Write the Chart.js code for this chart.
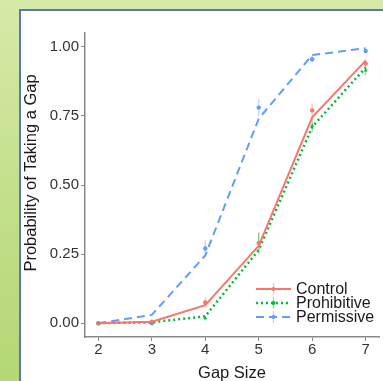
<!DOCTYPE html>
<html>
<head>
<meta charset="utf-8">
<script src="https://cdn.jsdelivr.net/npm/chart.js@4"></script>
<style>
  html, body { margin: 0; padding: 0; }
  body {
    width: 383px; height: 381px; overflow: hidden; position: relative;
    background: linear-gradient(to bottom, #d6eaa8 0%, #c4e08c 50%, #b5d775 100%);
  }
  .panel {
    position: absolute; left: 19px; top: 9px; width: 400px; height: 400px;
    background: #fff; border-left: 2px solid #5a77b9; border-top: 2px solid #5a77b9;
  }
  canvas { position: absolute; left: 0; top: 0; }
</style>
</head>
<body>
<div class="panel"></div>
<canvas id="chart" width="383" height="381"></canvas>
<script>
const gapSizes = [2, 3, 4, 5, 6, 7];
const yTicks = [0, 0.25, 0.5, 0.75, 1];
const xTitle = 'Gap Size';
const yTitle = 'Probability of Taking a Gap';

// fitted curves
const controlFit = [0, 0.005, 0.065, 0.28, 0.745, 0.95];
const prohibitiveFit = [0, 0.003, 0.025, 0.265, 0.71, 0.925];
const permissiveFit = [0, 0.03, 0.245, 0.74, 0.97, 0.995];

// observed means and error half-widths
const controlObs = [0, 0.005, 0.075, 0.29, 0.77, 0.94];
const controlErr = [0.003, 0.004, 0.02, 0.04, 0.025, 0.015];
const prohibitiveObs = [0, 0.003, 0.018, 0.29, 0.715, 0.915];
const prohibitiveErr = [0.002, 0.003, 0.008, 0.035, 0.025, 0.02];
const permissiveObs = [0, 0.0, 0.27, 0.78, 0.955, 0.985];
const permissiveErr = [0.003, 0.004, 0.03, 0.03, 0.012, 0.006];

const RED = '#F8766D', GREEN = '#00BA38', BLUE = '#619CFF';
const FONT = 'Liberation Sans, Arial, sans-serif';

const pts = arr => gapSizes.map((x, i) => ({ x, y: arr[i] }));

const series = [
  { label: 'Control', fit: controlFit, obs: controlObs, err: controlErr, color: RED, dash: [], width: 2, shape: 'circle' },
  { label: 'Prohibitive', fit: prohibitiveFit, obs: prohibitiveObs, err: prohibitiveErr, color: GREEN, dash: [2, 3], width: 2.5, shape: 'triangle' },
  { label: 'Permissive', fit: permissiveFit, obs: permissiveObs, err: permissiveErr, color: BLUE, dash: [8, 5], width: 2, shape: 'circle' },
];

const datasets = [];
series.forEach(s => {
  datasets.push({
    label: s.label, data: pts(s.fit), borderColor: s.color, borderWidth: s.width,
    borderDash: s.dash, pointRadius: 0, tension: 0, fill: false,
  });
});
series.forEach(s => {
  datasets.push({
    label: s.label + ' obs', data: pts(s.obs), showLine: false, pointStyle: s.shape,
    pointRadius: 2.2, backgroundColor: s.color, borderColor: s.color, borderWidth: 0,
    errors: s.err, errColor: s.color,
  });
});

const errorBars = {
  id: 'errorBars',
  beforeDatasetsDraw(chart) {
    const { ctx, scales } = chart;
    ctx.save();
    chart.data.datasets.forEach(ds => {
      if (!ds.errors) return;
      ctx.strokeStyle = ds.errColor;
      ctx.globalAlpha = 0.45;
      ctx.lineWidth = 1.2;
      ds.data.forEach((p, i) => {
        const x = scales.x.getPixelForValue(p.x);
        ctx.beginPath();
        ctx.moveTo(x, scales.y.getPixelForValue(p.y - ds.errors[i]));
        ctx.lineTo(x, scales.y.getPixelForValue(p.y + ds.errors[i]));
        ctx.stroke();
      });
    });
    ctx.restore();
  },
};

// axis titles and the in-panel legend
const annotations = {
  id: 'annotations',
  afterDraw(chart) {
    const { ctx, chartArea } = chart;
    ctx.save();
    ctx.fillStyle = '#1a1a1a';
    ctx.font = '16.5px ' + FONT;
    ctx.textAlign = 'center';
    ctx.textBaseline = 'middle';
    ctx.fillText(xTitle, (chartArea.left + chartArea.right) / 2, 373);
    ctx.save();
    ctx.translate(31, 173);
    ctx.rotate(-Math.PI / 2);
    ctx.fillText(yTitle, 0, 0);
    ctx.restore();

    ctx.font = '16px ' + FONT;
    ctx.textAlign = 'left';
    series.forEach((s, i) => {
      const y = 289 + i * 14;
      ctx.strokeStyle = s.color;
      ctx.lineWidth = s.width;
      ctx.setLineDash(s.dash);
      ctx.beginPath();
      ctx.moveTo(256, y);
      ctx.lineTo(291, y);
      ctx.stroke();
      ctx.setLineDash([]);
      ctx.globalAlpha = 0.45;
      ctx.lineWidth = 1.2;
      ctx.beginPath();
      ctx.moveTo(273.5, y - 6);
      ctx.lineTo(273.5, y + 6);
      ctx.stroke();
      ctx.globalAlpha = 1;
      ctx.fillStyle = s.color;
      ctx.beginPath();
      ctx.arc(273.5, y, 2, 0, Math.PI * 2);
      ctx.fill();
      ctx.fillStyle = '#1a1a1a';
      ctx.fillText(s.label, 296, y + 1);
    });
    ctx.restore();
  },
};

new Chart(document.getElementById('chart'), {
  type: 'line',
  data: { datasets },
  options: {
    responsive: false,
    animation: false,
    layout: { padding: { top: 33, right: 3, left: 0, bottom: 0 } },
    plugins: { legend: { display: false }, tooltip: { enabled: false } },
    scales: {
      x: {
        type: 'linear', min: 1.75, max: 7.25,
        afterBuildTicks: s => { s.ticks = gapSizes.map(v => ({ value: v })); },
        afterFit: s => { s.height = 44; },
        ticks: { color: '#333', font: { family: FONT, size: 15 }, padding: 0 },
        grid: { drawOnChartArea: false, drawTicks: true, tickLength: 4, color: '#888', lineWidth: 1 },
        border: { display: true, color: '#888', width: 1.5 },
      },
      y: {
        min: -0.05, max: 1.05,
        afterBuildTicks: s => { s.ticks = yTicks.map(v => ({ value: v })); },
        afterFit: s => { s.width = 85; },
        ticks: { color: '#333', font: { family: FONT, size: 15 }, padding: 2, callback: v => v.toFixed(2) },
        grid: { drawOnChartArea: false, drawTicks: true, tickLength: 4, color: '#888', lineWidth: 1 },
        border: { display: true, color: '#888', width: 1.5 },
      },
    },
  },
  plugins: [errorBars, annotations],
});
</script>
</body>
</html>
